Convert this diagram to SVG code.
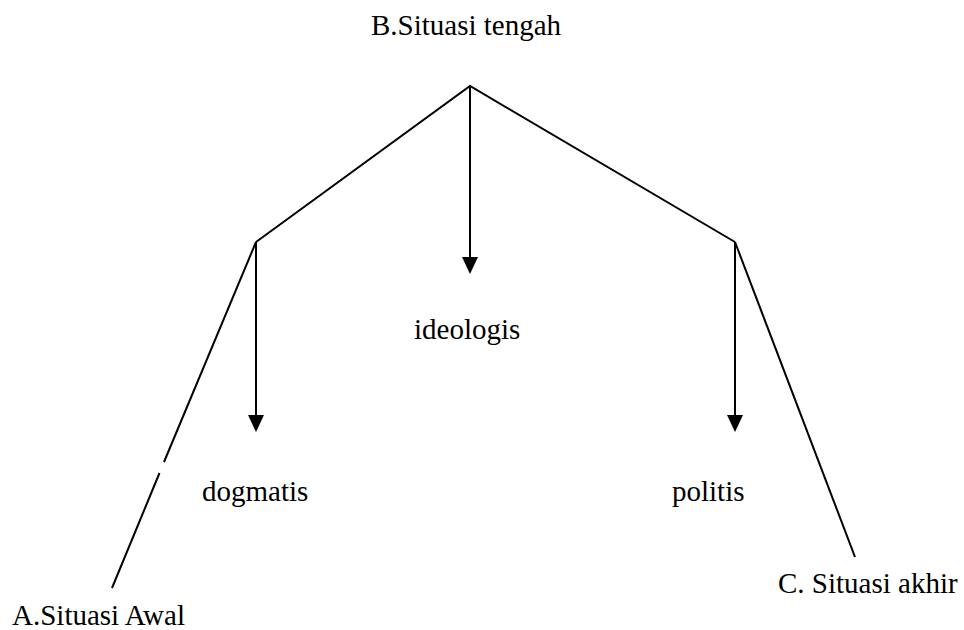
<svg xmlns="http://www.w3.org/2000/svg" width="964" height="630" viewBox="0 0 964 630">
  <style>
    .lbl { font-family: 'Liberation Serif', 'Noto Serif', 'DejaVu Serif', serif; font-size: 29px; fill: #000; }
    .ln { stroke: #000; stroke-width: 2; fill: none; }
    .head { fill: #000; }
  </style>
  <rect width="964" height="630" fill="#fff"/>

  <g id="connectors">
    <!-- roof lines from the top vertex to both shoulders -->
    <polyline class="ln" points="256,242 470,86 735,242"/>
    <!-- left leg, broken where it passes the label -->
    <line class="ln" x1="256" y1="242" x2="164" y2="462"/>
    <line class="ln" x1="159.5" y1="473" x2="112" y2="588"/>
    <!-- right leg -->
    <line class="ln" x1="735" y1="242" x2="855" y2="557"/>
    <!-- downward arrows -->
    <line class="ln" x1="470" y1="86" x2="470" y2="262"/>
    <path class="head" d="M462,257 L478,257 L470,274 Z"/>
    <line class="ln" x1="256" y1="242" x2="256" y2="420"/>
    <path class="head" d="M248,415 L264,415 L256,432 Z"/>
    <line class="ln" x1="735" y1="242" x2="735" y2="420"/>
    <path class="head" d="M727,415 L743,415 L735,432 Z"/>
  </g>

  <g id="node-b"><text class="lbl" x="371" y="35" font-family="Liberation Serif, serif">B.Situasi tengah</text></g>
  <g id="node-ideologis"><text class="lbl" x="414" y="339">ideologis</text></g>
  <g id="node-dogmatis"><text class="lbl" x="202" y="501">dogmatis</text></g>
  <g id="node-politis"><text class="lbl" x="672" y="501">politis</text></g>
  <g id="node-a"><text class="lbl" x="12" y="625">A.Situasi Awal</text></g>
  <g id="node-c"><text class="lbl" x="778" y="593">C. Situasi akhir</text></g>
</svg>
